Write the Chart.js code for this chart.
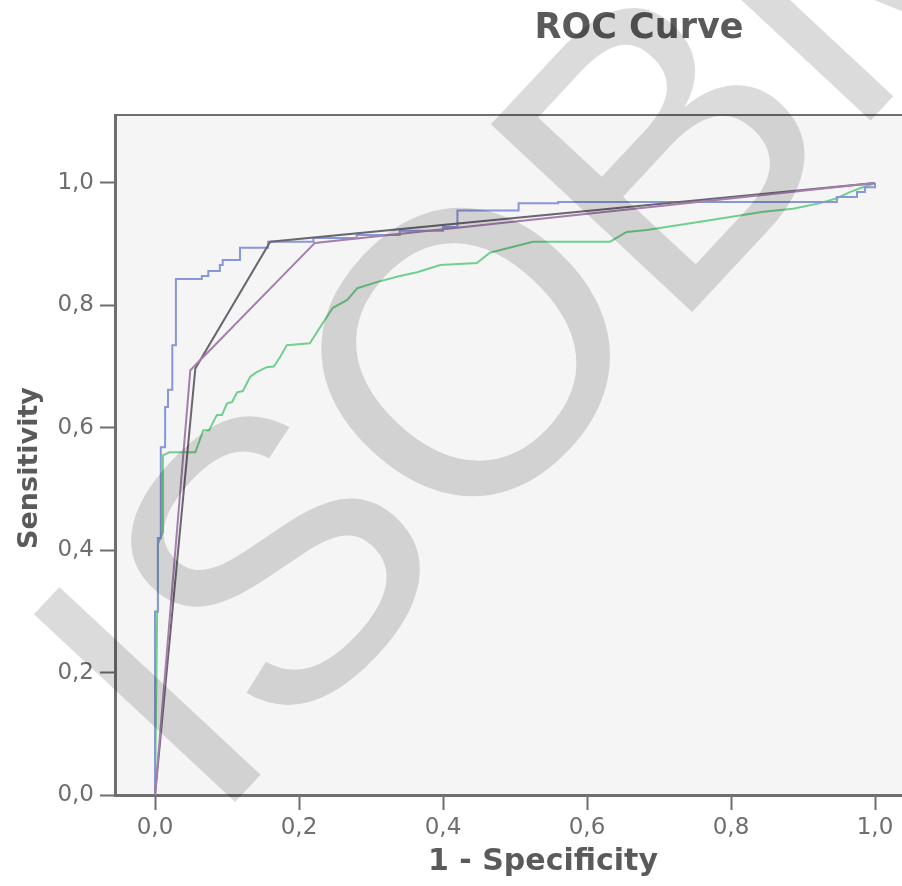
<!DOCTYPE html>
<html>
<head>
<meta charset="utf-8">
<script src="https://cdn.jsdelivr.net/npm/chart.js@4.4.1/dist/chart.umd.min.js"></script>
<style>
  html, body { margin: 0; padding: 0; background: #fff; overflow: hidden; }
  #wrap { width: 902px; height: 886px; position: relative; }
</style>
</head>
<body>
<div id="wrap"><canvas id="rocChart"></canvas></div>
<script>
// texts
const chartTitle = 'ROC Curve';
const xTitle = '1 - Specificity';
const yTitle = 'Sensitivity';
const watermarkText = 'ISOBM';

// tick values and labels (same for both axes)
const tickValues = [0, 0.2, 0.4, 0.6, 0.8, 1.0];
const tickLabels = ['0,0', '0,2', '0,4', '0,6', '0,8', '1,0'];

// curve 1 (blue, stepped: horizontal run, then rise at each point)
const blueFpr = [0, 0, 0.004, 0.008, 0.014, 0.018, 0.024, 0.029, 0.065, 0.074, 0.090, 0.094, 0.118, 0.157, 0.22, 0.28, 0.34, 0.40, 0.42, 0.505, 0.56, 0.947, 0.975, 0.986, 1];
const blueTpr = [0, 0.30, 0.42, 0.568, 0.634, 0.662, 0.735, 0.843, 0.848, 0.856, 0.866, 0.874, 0.894, 0.904, 0.910, 0.915, 0.922, 0.928, 0.955, 0.967, 0.969, 0.977, 0.985, 0.993, 1];

// curve 2 (green)
const greenFpr = [0, 0.003, 0.004, 0.011, 0.011, 0.02, 0.056, 0.067, 0.075, 0.086, 0.093, 0.10, 0.107, 0.114, 0.122, 0.132, 0.14, 0.155, 0.165, 0.174, 0.183, 0.215, 0.233, 0.247, 0.267, 0.281, 0.308, 0.340, 0.364, 0.396, 0.447, 0.465, 0.525, 0.632, 0.655, 0.683, 0.775, 0.845, 0.886, 0.924, 0.947, 0.965, 0.983, 1];
const greenTpr = [0, 0.30, 0.41, 0.43, 0.555, 0.56, 0.56, 0.596, 0.596, 0.621, 0.621, 0.64, 0.642, 0.658, 0.66, 0.683, 0.69, 0.699, 0.70, 0.716, 0.735, 0.738, 0.771, 0.796, 0.809, 0.828, 0.838, 0.848, 0.854, 0.866, 0.869, 0.886, 0.904, 0.904, 0.92, 0.923, 0.94, 0.953, 0.958, 0.967, 0.975, 0.985, 0.993, 1];

// curve 3 (dark grey)
const greyFpr = [0, 0.056, 0.160, 1];
const greyTpr = [0, 0.697, 0.904, 1];

// curve 4 (purple)
const purpleFpr = [0, 0.049, 0.222, 1];
const purpleTpr = [0, 0.694, 0.902, 1];

function toPoints(xs, ys) {
    return xs.map((x, i) => ({ x: x, y: ys[i] }));
}

const axisColor = '#6e6e6e';
const textColor = '#5a5a5a';

// plot background, top frame line, titles and watermark
const decorPlugin = {
    id: 'decor',
    beforeDraw(chart) {
        const a = chart.chartArea;
        const c = chart.ctx;
        c.save();
        c.fillStyle = '#f5f5f5';
        c.fillRect(a.left, a.top, a.right - a.left, a.bottom - a.top);
        c.strokeStyle = axisColor;
        c.lineWidth = 2;
        c.beginPath();
        c.moveTo(a.left, a.top);
        c.lineTo(a.right, a.top);
        c.stroke();
        c.restore();
    },
    afterDraw(chart) {
        const c = chart.ctx;
        c.save();
        c.fillStyle = textColor;
        c.textAlign = 'center';
        c.textBaseline = 'middle';
        c.font = 'bold 35px "DejaVu Sans"';
        c.fillText(chartTitle, 639, 29);
        c.font = 'bold 30px "DejaVu Sans"';
        c.fillText(xTitle, 543, 862);
        c.translate(30, 468);
        c.rotate(-Math.PI / 2);
        c.font = 'bold 27px "DejaVu Sans"';
        c.fillText(yTitle, 0, 0);
        c.restore();

        // watermark
        c.save();
        c.translate(210, 829);
        c.rotate(-47 * Math.PI / 180);
        c.fillStyle = 'rgba(0,0,0,0.14)';
        c.font = '400px "Liberation Sans"';
        c.letterSpacing = '-5px';
        c.textAlign = 'left';
        c.textBaseline = 'alphabetic';
        c.fillText(watermarkText, 0, 0);
        c.restore();
    }
};

function axisOptions(min, max, size, isX) {
    return {
        type: 'linear',
        min: min,
        max: max,
        afterBuildTicks: function(scale) {
            scale.ticks = tickValues.map(v => ({ value: v }));
        },
        afterFit: function(scale) {
            if (isX) { scale.height = size; } else { scale.width = size; }
        },
        ticks: {
            color: '#6e6e6e',
            font: { family: 'DejaVu Sans', size: 23 },
            padding: isX ? 4 : 6,
            maxRotation: 0,
            autoSkip: false,
            callback: function(value) {
                const i = tickValues.findIndex(v => Math.abs(v - value) < 1e-6);
                return i >= 0 ? tickLabels[i] : null;
            }
        },
        grid: {
            drawOnChartArea: false,
            drawTicks: true,
            tickLength: 15,
            tickWidth: 2,
            tickColor: axisColor
        },
        border: { display: true, color: axisColor, width: 3 }
    };
}

const lineStyle = { showLine: true, pointRadius: 0, pointHoverRadius: 0, borderWidth: 2, fill: false, tension: 0 };

new Chart(document.getElementById('rocChart'), {
    type: 'scatter',
    data: {
        datasets: [
            Object.assign({ label: 'purple', data: toPoints(purpleFpr, purpleTpr), borderColor: '#a47fac' }, lineStyle),
            Object.assign({ label: 'grey', data: toPoints(greyFpr, greyTpr), borderColor: '#6a6670' }, lineStyle),
            Object.assign({ label: 'blue', data: toPoints(blueFpr, blueTpr), borderColor: '#8797d8', stepped: 'before' }, lineStyle),
            Object.assign({ label: 'green', data: toPoints(greenFpr, greenTpr), borderColor: '#72cf8f' }, lineStyle)
        ]
    },
    options: {
        responsive: true,
        maintainAspectRatio: false,
        animation: false,
        layout: { padding: { top: 115, left: 0, right: 0, bottom: 0 } },
        plugins: {
            legend: { display: false },
            title: { display: false },
            tooltip: { enabled: false }
        },
        scales: {
            x: axisOptions(-0.0556, 1.0375, 91, true),
            y: axisOptions(0, 1.111, 115, false)
        }
    },
    plugins: [decorPlugin]
});
</script>
</body>
</html>
